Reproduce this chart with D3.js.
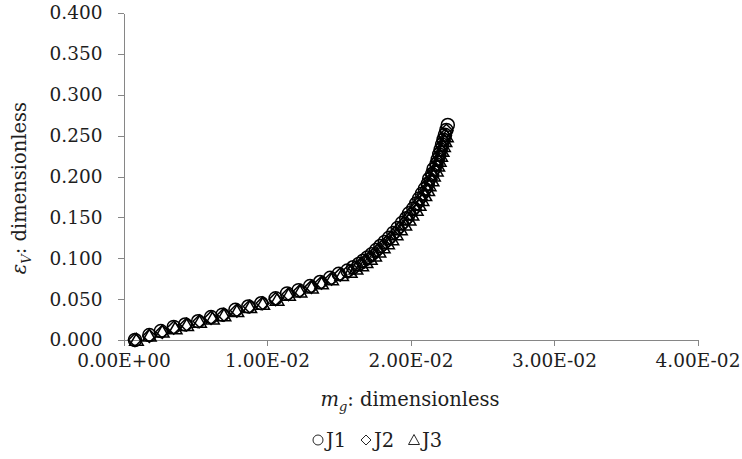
<!DOCTYPE html>
<html lang="en">
<head>
<meta charset="UTF-8">
<title>Volumetric strain vs mg</title>
<style>
    body { margin: 0; background: #fff; }
    svg text { font-family: "DejaVu Serif", serif; fill: #1e1e1e; }
    .axis path, .axis line { stroke: #868686; stroke-width: 1px; shape-rendering: crispEdges; }
    .axis text { font-size: 18.5px; }
    .marker { fill: none; stroke: #000; stroke-width: 1.5px; }
</style>
</head>
<body>
<div id="chart"></div>
<script src="https://d3js.org/d3.v7.min.js"></script>
<script>
    // values
    const j1Mg = [0.0008, 0.0018, 0.0026, 0.0035, 0.0043, 0.0052, 0.0061, 0.0069, 0.0078, 0.0087,
        0.0096, 0.0106, 0.0114, 0.0122, 0.0130, 0.0137, 0.0144, 0.0150, 0.0156, 0.0160,
        0.0164, 0.0167, 0.0170, 0.0173, 0.0176, 0.0179, 0.0182, 0.0185, 0.0188, 0.0191,
        0.0194, 0.0197, 0.0199, 0.0202, 0.0204, 0.0206, 0.0208, 0.0210, 0.0212, 0.0213,
        0.0215, 0.0216, 0.0218, 0.0219, 0.0220, 0.0221, 0.0222, 0.0223, 0.0224, 0.0225, 0.0226];
    const j1Ev = [0.000, 0.006, 0.011, 0.016, 0.019, 0.023, 0.028, 0.031, 0.037, 0.041,
        0.045, 0.051, 0.057, 0.061, 0.066, 0.071, 0.076, 0.081, 0.085, 0.089,
        0.093, 0.097, 0.101, 0.105, 0.110, 0.115, 0.120, 0.125, 0.131, 0.137,
        0.143, 0.149, 0.155, 0.161, 0.167, 0.173, 0.179, 0.185, 0.191, 0.197,
        0.203, 0.209, 0.215, 0.221, 0.227, 0.233, 0.239, 0.245, 0.251, 0.257, 0.263];

    const j2Mg = [0.0008, 0.0018, 0.0027, 0.0035, 0.0044, 0.0053, 0.0061, 0.0070, 0.0079, 0.0088,
        0.0097, 0.0106, 0.0115, 0.0123, 0.0131, 0.0138, 0.0145, 0.0151, 0.0157, 0.0161,
        0.0165, 0.0168, 0.0171, 0.0174, 0.0177, 0.0180, 0.0183, 0.0186, 0.0189, 0.0192,
        0.0195, 0.0198, 0.0200, 0.0203, 0.0205, 0.0207, 0.0209, 0.0211, 0.0212, 0.0214,
        0.0215, 0.0217, 0.0218, 0.0219, 0.0220, 0.0221, 0.0222, 0.0223, 0.0224, 0.0225];
    const j2Ev = [0.000, 0.005, 0.010, 0.015, 0.019, 0.023, 0.027, 0.031, 0.036, 0.041,
        0.045, 0.050, 0.056, 0.060, 0.065, 0.070, 0.075, 0.080, 0.084, 0.088,
        0.092, 0.096, 0.100, 0.104, 0.109, 0.114, 0.119, 0.124, 0.130, 0.136,
        0.142, 0.148, 0.154, 0.160, 0.166, 0.172, 0.178, 0.184, 0.190, 0.196,
        0.202, 0.208, 0.214, 0.220, 0.226, 0.232, 0.238, 0.244, 0.250, 0.256];

    const j3Mg = [0.0009, 0.0018, 0.0027, 0.0036, 0.0044, 0.0053, 0.0062, 0.0070, 0.0079, 0.0088,
        0.0097, 0.0107, 0.0115, 0.0123, 0.0131, 0.0138, 0.0145, 0.0152, 0.0158, 0.0162,
        0.0166, 0.0169, 0.0172, 0.0175, 0.0178, 0.0181, 0.0184, 0.0187, 0.0190, 0.0193,
        0.0196, 0.0199, 0.0201, 0.0204, 0.0206, 0.0208, 0.0210, 0.0212, 0.0213, 0.0215,
        0.0216, 0.0218, 0.0219, 0.0220, 0.0221, 0.0222, 0.0223, 0.0224, 0.0225];
    const j3Ev = [0.000, 0.005, 0.010, 0.014, 0.018, 0.022, 0.026, 0.030, 0.035, 0.040,
        0.044, 0.049, 0.055, 0.059, 0.064, 0.069, 0.074, 0.079, 0.083, 0.087,
        0.091, 0.095, 0.099, 0.103, 0.108, 0.113, 0.118, 0.123, 0.129, 0.135,
        0.141, 0.147, 0.153, 0.159, 0.165, 0.171, 0.177, 0.183, 0.189, 0.195,
        0.201, 0.207, 0.213, 0.219, 0.225, 0.231, 0.237, 0.243, 0.249];

    const seriesNames = ["J1", "J2", "J3"];
    const xTicks = [0, 0.01, 0.02, 0.03, 0.04];
    const yTicks = [0, 0.05, 0.10, 0.15, 0.20, 0.25, 0.30, 0.35, 0.40];

    const W = 742, H = 459;
    const plot = { left: 123.5, right: 697.5, top: 13, bottom: 340 };

    const svg = d3.select("#chart").append("svg")
        .attr("width", W).attr("height", H);

    const x = d3.scaleLinear().domain([0, 0.04]).range([plot.left, plot.right]);
    const y = d3.scaleLinear().domain([0, 0.4]).range([plot.bottom, plot.top]);

    function sci(v) {
        if (v === 0) return "0.00E+00";
        const e = Math.floor(Math.log10(Math.abs(v)) + 1e-9);
        const m = (v / Math.pow(10, e)).toFixed(2);
        const s = e < 0 ? "-" : "+";
        return m + "E" + s + String(Math.abs(e)).padStart(2, "0");
    }

    svg.append("g")
        .attr("class", "axis")
        .attr("transform", "translate(0," + plot.bottom + ")")
        .call(d3.axisBottom(x).tickValues(xTicks).tickFormat(sci).tickSizeInner(6).tickSizeOuter(0).tickPadding(8));

    svg.append("g")
        .attr("class", "axis")
        .attr("transform", "translate(" + plot.left + ",0)")
        .call(d3.axisLeft(y).tickValues(yTicks).tickFormat(d3.format(".3f")).tickSizeInner(6).tickSizeOuter(0).tickPadding(15));

    svg.selectAll(".axis .domain").attr("stroke", "#868686");

    // marker shapes
    const shapes = {
        J1: "M6.5,0A6.5,6.5,0,1,1,-6.5,0A6.5,6.5,0,1,1,6.5,0Z",
        J2: "M0,-6.5L6.5,0L0,6.5L-6.5,0Z",
        J3: "M0,-6.5L6.8,5.2L-6.8,5.2Z"
    };

    const series = [
        { name: "J1", mg: j1Mg, ev: j1Ev },
        { name: "J2", mg: j2Mg, ev: j2Ev },
        { name: "J3", mg: j3Mg, ev: j3Ev }
    ];

    series.forEach(s => {
        const pts = s.mg.map((m, i) => [m, s.ev[i]]);
        svg.append("g").selectAll("path")
            .data(pts)
            .enter().append("path")
            .attr("class", "marker")
            .attr("d", shapes[s.name])
            .attr("transform", d => `translate(${x(d[0])},${y(d[1])})`);
    });

    // axis titles
    const xt = svg.append("text")
        .attr("x", 410).attr("y", 406)
        .attr("text-anchor", "middle")
        .style("font-size", "19.5px");
    xt.append("tspan").style("font-style", "italic").text("m");
    xt.append("tspan").style("font-style", "italic").style("font-size", "13px").attr("dy", 5).text("g");
    xt.append("tspan").attr("dy", -5).text(": dimensionless");

    const yt = svg.append("text")
        .attr("transform", "translate(26,188) rotate(-90)")
        .attr("text-anchor", "middle")
        .style("font-size", "19.5px");
    yt.append("tspan").style("font-style", "italic").text("ε");
    yt.append("tspan").style("font-style", "italic").style("font-size", "13px").attr("dy", 5).text("V");
    yt.append("tspan").attr("dy", -5).text(": dimensionless");

    // legend
    const legend = svg.append("g").attr("transform", "translate(318,440)");
    const legendSymbols = {
        J1: "M5,0A5,5,0,1,1,-5,0A5,5,0,1,1,5,0Z",
        J2: "M0,-5L5,0L0,5L-5,0Z",
        J3: "M0,-5.5L5.5,4.5L-5.5,4.5Z"
    };
    seriesNames.forEach((n, i) => {
        const g = legend.append("g").attr("transform", `translate(${i * 48},0)`);
        g.append("path").attr("class", "marker").attr("d", legendSymbols[n])
            .style("stroke", "#262626").style("stroke-width", 1);
        g.append("text").attr("x", 8).attr("y", 7).style("font-size", "19.5px").text(n);
    });
</script>
</body>
</html>
